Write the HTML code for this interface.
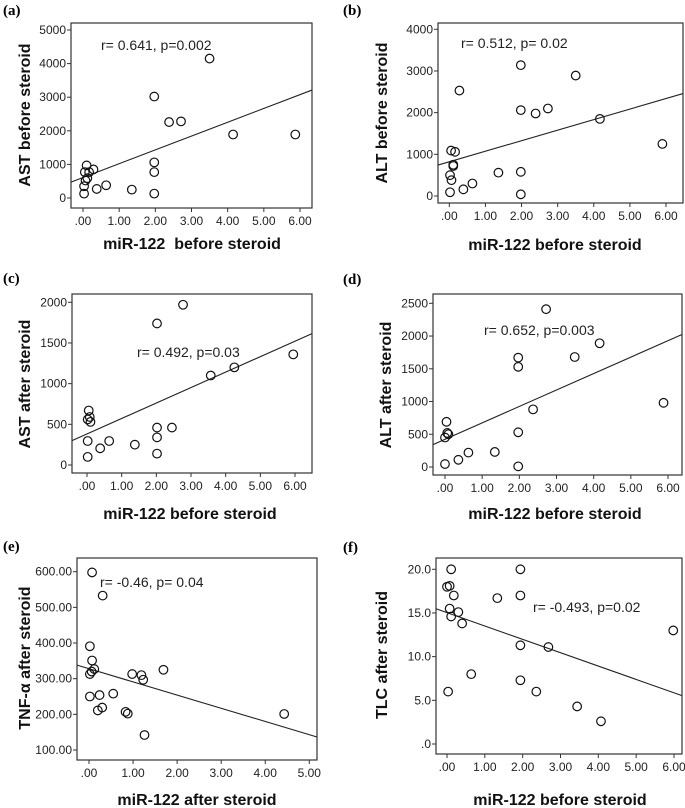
<!DOCTYPE html>
<html><head><meta charset="utf-8"><style>
html,body{margin:0;padding:0;background:#fff;}
svg{display:block;}
.tick{font-family:"Liberation Sans",sans-serif;font-size:12px;fill:#222;}
.ttl{font-family:"Liberation Sans",sans-serif;font-size:16px;font-weight:bold;fill:#111;}
.ann{font-family:"Liberation Sans",sans-serif;font-size:14px;fill:#222;}
.plab{font-family:"Liberation Serif",serif;font-size:15px;font-weight:bold;fill:#000;}
</style></head><body>
<svg id="fig" width="685" height="808" viewBox="0 0 685 808" xmlns="http://www.w3.org/2000/svg"></svg>
<script>
// Panel (a)
const aX=[0.1,0.05,0.17,0.29,0.12,0.07,0.03,0.03,0.38,0.64,1.35,1.97,1.97,1.97,1.97,2.38,2.71,3.5,4.15,5.87];
const aY=[970,770,770,850,590,520,350,130,270,380,250,3020,1060,770,130,2260,2280,4150,1890,1890];
const aLine=[610,411];
const aXTicks=[".00","1.00","2.00","3.00","4.00","5.00","6.00"];
const aYTicks=["0","1000","2000","3000","4000","5000"];
// Panel (b)
const bX=[0.02,0.02,0.06,0.05,0.16,0.11,0.11,0.28,0.39,0.64,1.36,1.98,1.98,1.98,1.98,2.39,2.73,3.5,4.17,5.9];
const bY=[90,500,380,1090,1060,720,750,2530,160,300,560,3140,2060,580,40,1980,2100,2890,1850,1250];
const bLine=[821,253];
const bXTicks=[".00","1.00","2.00","3.00","4.00","5.00","6.00"];
const bYTicks=["0","1000","2000","3000","4000"];
// Panel (c)
const cX=[0.05,0.08,0.02,0.1,0.02,0.02,0.38,0.64,1.38,2.02,2.02,2.02,2.02,2.45,2.77,3.57,4.25,5.95];
const cY=[670,590,560,530,295,100,205,295,250,1740,460,340,140,460,1970,1100,1200,1360];
const cLine=[382,190];
const cXTicks=[".00","1.00","2.00","3.00","4.00","5.00","6.00"];
const cYTicks=["0","500","1000","1500","2000"];
// Panel (d)
const dX=[0,0,0.04,0.06,0.09,0.36,0.63,1.34,1.97,1.97,1.97,1.97,2.37,2.72,3.49,4.16,5.88];
const dY=[45,450,690,520,500,110,220,230,1670,1530,530,10,880,2410,1680,1890,980];
const dLine=[423,251];
const dXTicks=[".00","1.00","2.00","3.00","4.00","5.00","6.00"];
const dYTicks=["0","500","1000","1500","2000","2500"];
// Panel (e)
const eX=[0.07,0.31,0.02,0.07,0.12,0.06,0.02,0.02,0.24,0.2,0.3,0.55,0.83,0.88,0.98,1.19,1.23,1.69,1.26,4.43];
const eY=[598,533,391,351,327,320,313,250,254,211,219,258,207,202,313,310,297,325,142,201];
const eLine=[328,-37];
const eXTicks=[".00","1.00","2.00","3.00","4.00","5.00"];
const eYTicks=["100.00","200.00","300.00","400.00","500.00","600.00"];
// Panel (f)
const fX=[0.11,0,0.07,0.18,0.07,0.11,0.3,0.4,0.03,0.64,1.33,1.94,1.94,1.94,1.94,2.36,2.68,3.44,4.07,5.98];
const fY=[20,18,18.1,17,15.5,14.6,15.1,13.8,6,8,16.7,20,17,11.3,7.3,6,11.1,4.3,2.6,13];
const fLine=[15.04,-1.53];
const fXTicks=[".00","1.00","2.00","3.00","4.00","5.00","6.00"];
const fYTicks=[".0","5.0","10.0","15.0","20.0"];

const NS="http://www.w3.org/2000/svg";
const svg=document.getElementById('fig');
function mk(tag,attrs,parent,txt){const e=document.createElementNS(NS,tag);for(const k in attrs)e.setAttribute(k,attrs[k]);if(txt!==undefined)e.textContent=txt;parent.appendChild(e);return e;}

function panel(p){
  const g=mk('g',{},svg);
  
  
  const sx=v=>p.x0px+(v-p.xmin)*(p.x1px-p.x0px)/(p.xmax-p.xmin);
  const sy=v=>p.y0px+(v-p.ymin)*(p.y1px-p.y0px)/(p.ymax-p.ymin);
  const lab=mk('text',{x:p.lx,y:p.ly,class:'plab'},g,'('+p.id+')');
  
  
  const box=mk('rect',{x:p.L,y:p.T,width:p.R-p.L,height:p.B-p.T,fill:'none',stroke:'#333','stroke-width':1.2},g);
  
  
  p.xt.forEach((t,i)=>{const v=p.xmin+i*p.xstep;const x=sx(v);
    mk('line',{x1:x,x2:x,y1:p.B,y2:p.B+4,stroke:'#333'},g);
    const tl=mk('text',{x:x,y:p.B+17,class:'tick','text-anchor':'middle'},g,t);
    
    });
  p.yt.forEach((t,i)=>{const v=p.ymin+i*p.ystep;const y=sy(v);
    mk('line',{x1:p.L-4,x2:p.L,y1:y,y2:y,stroke:'#333'},g);
    const tl=mk('text',{x:p.L-5,y:y+4,class:'tick','text-anchor':'end'},g,t);
    
    });
  const xa=mk('text',{x:p.xtx,y:p.xty,class:'ttl','text-anchor':'middle','xml:space':'preserve'},g,p.xtitle);
  
  
  xa.style.whiteSpace='pre';
  const ya=mk('text',{x:0,y:0,class:'ttl','text-anchor':'middle',transform:`translate(${p.ytx},${p.yty}) rotate(-90)`},g,p.ytitle);
  
  
  const xl=p.xmin+(p.L-p.x0px)*(p.xmax-p.xmin)/(p.x1px-p.x0px);
  const xr=p.xmin+(p.R-p.x0px)*(p.xmax-p.xmin)/(p.x1px-p.x0px);
  const ln=mk('line',{x1:p.L,x2:p.R,y1:sy(p.line[0]+p.line[1]*xl),y2:sy(p.line[0]+p.line[1]*xr),stroke:'#222','stroke-width':1.1},g);
  
  
  p.xs.forEach((xv,i)=>{const c=mk('circle',{cx:sx(xv),cy:sy(p.ys[i]),r:4.3,fill:'none',stroke:'#111','stroke-width':1.2},g);
    
    });
  const an=mk('text',{x:p.ax,y:p.ay,class:'ann'},g,p.ann);
  
  
}

panel({id:'a',xs:aX,ys:aY,line:aLine,xt:aXTicks,yt:aYTicks,xmin:0,xmax:6,xstep:1,ymin:0,ymax:5000,ystep:1000,
 x0px:83,x1px:300,y0px:198,y1px:30,L:71,R:312,T:23,B:208,lx:3,ly:15,
 xtitle:'miR-122  before steroid',xtx:192,xty:249,ytitle:'AST before steroid',ytx:30,yty:115,
 ann:'r= 0.641, p=0.002',ax:101,ay:50});
panel({id:'b',xs:bX,ys:bY,line:bLine,xt:bXTicks,yt:bYTicks,xmin:0,xmax:6,xstep:1,ymin:0,ymax:4000,ystep:1000,
 x0px:449.3,x1px:666,y0px:196,y1px:29.3,L:438,R:683,T:23,B:203,lx:343,ly:15,
 xtitle:'miR-122 before steroid',xtx:555,xty:250,ytitle:'ALT before steroid',ytx:387,yty:113,
 ann:'r= 0.512, p= 0.02',ax:461,ay:48});
panel({id:'c',xs:cX,ys:cY,line:cLine,xt:cXTicks,yt:cYTicks,xmin:0,xmax:6,xstep:1,ymin:0,ymax:2000,ystep:500,
 x0px:87,x1px:295,y0px:465,y1px:302.3,L:72,R:312,T:294,B:473,lx:3,ly:283,
 xtitle:'miR-122 before steroid',xtx:190,xty:519,ytitle:'AST after steroid',ytx:30,yty:384,
 ann:'r= 0.492, p=0.03',ax:137,ay:357});
panel({id:'d',xs:dX,ys:dY,line:dLine,xt:dXTicks,yt:dYTicks,xmin:0,xmax:6,xstep:1,ymin:0,ymax:2500,ystep:500,
 x0px:445,x1px:668,y0px:467,y1px:303.3,L:433,R:682,T:294,B:475,lx:343,ly:284,
 xtitle:'miR-122 before steroid',xtx:555,xty:519,ytitle:'ALT after steroid',ytx:391,yty:385,
 ann:'r= 0.652, p=0.003',ax:484,ay:335});
panel({id:'e',xs:eX,ys:eY,line:eLine,xt:eXTicks,yt:eYTicks,xmin:0,xmax:5,xstep:1,ymin:100,ymax:600,ystep:100,
 x0px:89,x1px:309.3,y0px:750,y1px:571.7,L:77,R:317,T:558,B:760,lx:3,ly:551,
 xtitle:'miR-122 after steroid',xtx:197,xty:805,ytitle:'TNF-\u03b1 after steroid',ytx:30,yty:658,
 ann:'r= -0.46, p= 0.04',ax:100,ay:587});
panel({id:'f',xs:fX,ys:fY,line:fLine,xt:fXTicks,yt:fYTicks,xmin:0,xmax:6,xstep:1,ymin:0,ymax:20,ystep:5,
 x0px:447,x1px:674,y0px:744,y1px:569.3,L:436,R:682,T:558,B:754,lx:343,ly:552,
 xtitle:'miR-122 before steroid',xtx:560,xty:805,ytitle:'TLC after steroid',ytx:387,yty:655,
 ann:'r= -0.493, p=0.02',ax:533,ay:612});
</script>
</body></html>
